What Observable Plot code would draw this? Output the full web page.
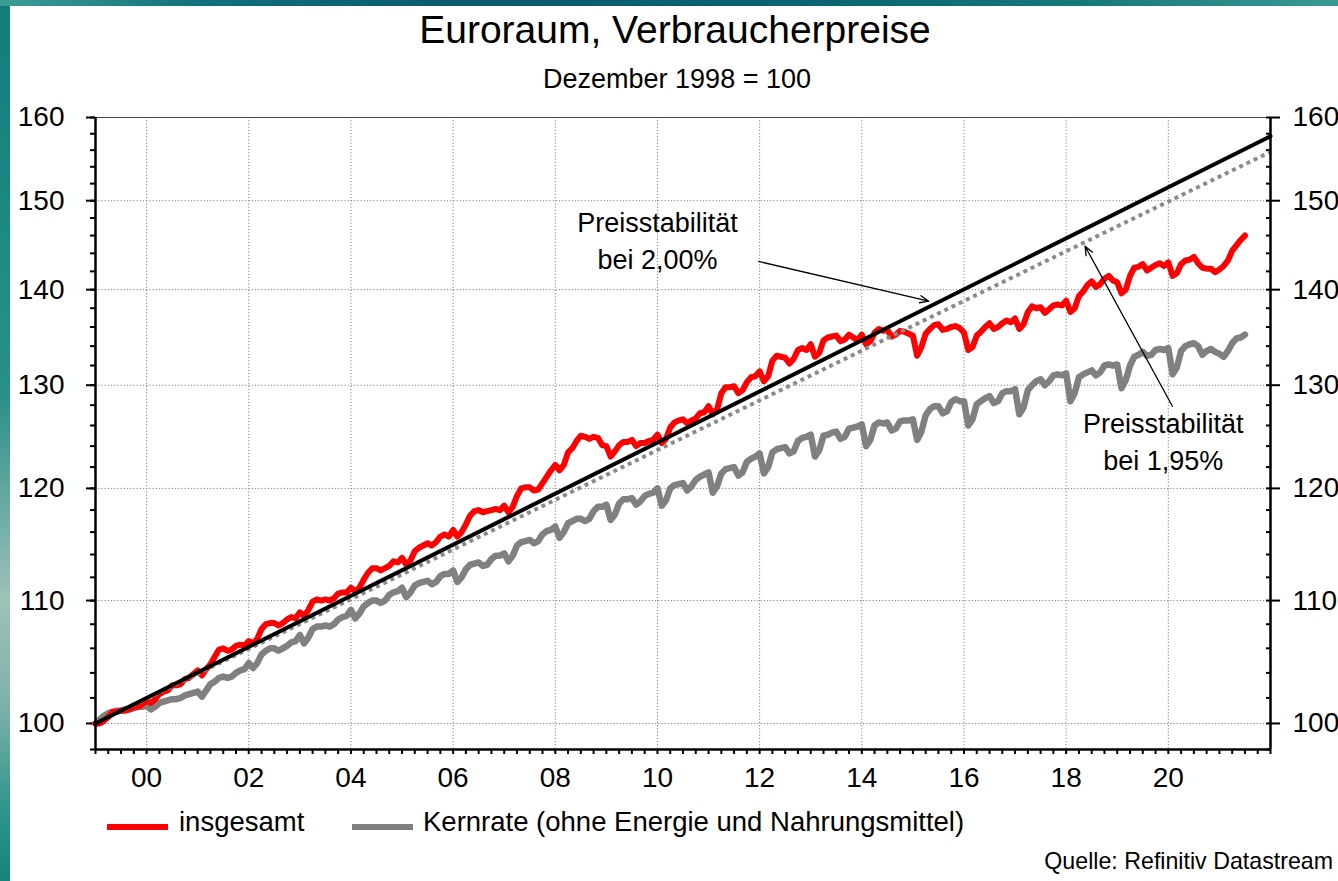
<!DOCTYPE html>
<html>
<head>
<meta charset="utf-8">
<script src="https://cdn.jsdelivr.net/npm/d3@7"></script>
<script src="https://cdn.jsdelivr.net/npm/@observablehq/plot@0.6"></script>
<style>
  html, body { margin: 0; padding: 0; width: 1338px; height: 881px; overflow: hidden; }
  body {
    position: relative;
    font-family: "Liberation Sans", Arial, sans-serif;
    background: linear-gradient(180deg, #157c79 0%, #1a8a83 25%, #2a9088 45%, #9fc1b8 68%, #7fb2a8 80%, #2d958b 92%, #16847c 100%);
  }
  #topstrip { position: absolute; left: 0; top: 0; width: 1338px; height: 6px;
    background: linear-gradient(90deg, #3a9e94 0%, #12707a 15%, #0a5a6a 35%, #0b6470 60%, #127878 80%, #3a9a92 100%); }
  #page { position: absolute; left: 10px; top: 6px; width: 1328px; height: 875px; background: #fff; }
  #title { position: absolute; left: 0; top: 10px; width: 1350px; text-align: center; font-size: 39px; line-height: 40px; color: #000; }
  #subtitle { position: absolute; left: 0; top: 65px; width: 1354px; text-align: center; font-size: 27px; line-height: 28px; color: #000; }
  #chart { position: absolute; left: 0; top: 95px; }
  .sw { position: absolute; height: 6px; }
  .lg { position: absolute; font-size: 27.5px; line-height: 30px; color: #000; white-space: nowrap; }
  #caption { position: absolute; right: 5px; top: 849px; font-size: 23.2px; line-height: 24px; color: #000; }
</style>
</head>
<body>
<div id="topstrip"></div>
<div id="page"></div>
<div id="title">Euroraum, Verbraucherpreise</div>
<div id="subtitle">Dezember 1998 = 100</div>
<div id="chart"></div>
<div class="sw" style="left:107px; top:824px; width:61px; background:#ff0000;"></div>
<div class="lg" style="left:179px; top:807px;">insgesamt</div>
<div class="sw" style="left:352px; top:824px; width:61px; background:#808080;"></div>
<div class="lg" style="left:423px; top:807px;">Kernrate (ohne Energie und Nahrungsmittel)</div>
<div id="caption">Quelle: Refinitiv Datastream</div>
<script>
// Monthly index values, December 1998 = 100; first value = Dec 1998, last = Jun 2021
const startJahr = 1999; // Dec 1998 sits at the start of 1999 on the axis
const insgesamt = [
  100.0,
  100.0,100.2,100.5,100.9,100.9,101.0,101.0,101.1,101.3,101.3,101.5,101.8, // 1999
  101.6,101.9,102.3,102.5,102.6,103.0,103.0,103.1,103.5,103.6,103.9,104.2, // 2000
  103.8,104.3,104.7,105.3,105.9,106.0,105.8,105.9,106.2,106.3,106.2,106.6, // 2001
  106.4,106.8,107.6,108.0,108.1,108.1,107.9,108.1,108.4,108.6,108.5,109.0, // 2002
  108.7,109.2,109.9,110.1,110.0,110.1,110.0,110.2,110.6,110.7,110.7,111.1, // 2003
  110.8,111.1,111.8,112.4,112.8,112.8,112.6,112.8,113.0,113.4,113.3,113.7, // 2004
  113.1,113.5,114.3,114.6,114.8,115.0,114.8,115.1,115.6,115.8,115.6,116.2, // 2005
  115.6,116.0,116.7,117.5,117.9,118.0,117.8,117.9,118.0,118.1,118.0,118.4, // 2006
  117.8,118.3,119.3,120.0,120.1,120.1,119.8,119.9,120.5,121.1,121.7,122.2, // 2007
  121.7,122.2,123.4,123.8,124.5,125.0,124.9,124.7,124.9,124.8,124.1,124.0, // 2008
  123.0,123.5,124.1,124.4,124.4,124.6,124.0,124.3,124.3,124.5,124.6,125.1, // 2009
  124.3,124.7,125.8,126.3,126.5,126.6,126.2,126.5,126.7,127.2,127.3,127.9, // 2010
  127.1,127.6,129.2,129.8,129.8,129.9,129.2,129.5,130.3,130.8,130.9,131.4, // 2011
  130.4,130.9,132.5,133.0,132.9,132.8,132.2,132.7,133.6,133.8,133.6,134.2, // 2012
  132.9,133.3,134.6,134.9,135.0,135.1,134.5,134.7,135.2,134.9,134.6,135.2, // 2013
  134.2,134.5,135.4,135.8,135.6,135.7,135.0,135.2,135.6,135.5,135.3,135.1, // 2014
  133.0,133.9,135.3,135.8,136.2,136.3,135.7,135.8,136.0,136.1,135.9,135.4, // 2015
  133.6,133.9,135.1,135.5,136.0,136.4,135.8,136.0,136.4,136.7,136.5,136.9, // 2016
  135.8,136.3,137.6,138.2,138.0,138.1,137.5,137.9,138.3,138.4,138.3,138.8, // 2017
  137.6,138.0,139.3,139.8,140.5,140.9,140.3,140.6,141.2,141.5,141.0,140.8, // 2018
  139.6,140.0,141.5,142.4,142.5,142.8,142.1,142.4,142.7,142.9,142.6,143.0, // 2019
  141.5,141.8,142.8,143.2,143.3,143.6,142.9,142.4,142.3,142.3,141.9,142.2, // 2020
  142.6,143.2,144.3,144.9,145.5,146.0                                      // 2021
];
const kernrate = [
  100.0,
  100.3,100.6,100.8,100.9,101.0,101.0,101.1,101.1,101.2,101.3,101.3,101.4, // 1999
  101.1,101.3,101.6,101.7,101.8,101.9,101.9,102.0,102.2,102.3,102.4,102.5, // 2000
  102.1,102.6,103.1,103.3,103.6,103.7,103.6,103.7,104.0,104.2,104.3,104.8, // 2001
  104.4,104.8,105.5,105.8,106.0,106.0,105.8,106.0,106.2,106.5,106.6,107.1, // 2002
  106.4,106.9,107.6,107.8,107.8,107.9,107.8,108.0,108.4,108.6,108.7,109.2, // 2003
  108.5,108.9,109.5,109.8,110.0,110.0,109.8,110.0,110.5,110.7,110.8,111.1, // 2004
  110.3,110.7,111.3,111.5,111.6,111.7,111.4,111.6,112.1,112.3,112.3,112.6, // 2005
  111.6,112.0,112.7,113.1,113.2,113.3,113.0,113.1,113.6,113.9,113.9,114.1, // 2006
  113.4,113.9,114.8,115.1,115.2,115.3,115.0,115.2,115.8,116.1,116.2,116.5, // 2007
  115.5,116.0,116.8,117.0,117.2,117.2,117.0,117.2,117.9,118.3,118.3,118.5, // 2008
  117.1,117.6,118.6,119.0,119.0,119.1,118.5,118.8,119.3,119.5,119.6,120.0, // 2009
  118.4,118.9,120.0,120.3,120.4,120.5,119.8,120.2,120.8,121.1,121.3,121.5, // 2010
  119.6,120.2,121.4,121.8,121.9,122.0,121.2,121.5,122.5,122.8,123.0,123.3, // 2011
  121.4,122.0,123.4,123.7,123.8,123.9,123.3,123.5,124.5,124.8,124.9,125.1, // 2012
  123.0,123.6,125.0,125.1,125.3,125.4,124.7,124.9,125.7,125.8,125.9,126.1, // 2013
  124.0,124.6,126.0,126.3,126.2,126.3,125.5,125.7,126.4,126.5,126.5,126.6, // 2014
  124.6,125.4,127.0,127.6,127.9,127.9,127.2,127.4,128.3,128.6,128.4,128.4, // 2015
  126.0,126.6,128.1,128.4,128.7,128.9,128.2,128.4,129.2,129.4,129.4,129.6, // 2016
  127.1,127.8,129.5,130.0,130.4,130.6,130.0,130.4,131.0,131.1,131.0,131.2, // 2017
  128.4,129.2,130.8,131.1,131.3,131.5,131.0,131.3,132.0,132.1,132.0,132.1, // 2018
  129.7,130.5,132.0,132.9,133.1,133.4,133.0,133.1,133.6,133.7,133.6,133.8, // 2019
  131.1,131.8,133.5,134.0,134.2,134.3,134.0,133.1,133.5,133.7,133.4,133.2, // 2020
  132.9,133.5,134.3,134.8,134.9,135.2                                      // 2021
];
// Price-stability reference paths (start and end of the axis)
const refJahre = [1999, 2022];
const stabil200 = [100, 157.7];
const stabil195 = [100, 155.8];

// Axis ticks and labels
const xLabelJahre = [2000, 2002, 2004, 2006, 2008, 2010, 2012, 2014, 2016, 2018, 2020];
const xLabels = ["00", "02", "04", "06", "08", "10", "12", "14", "16", "18", "20"];
const yTicks = [100, 110, 120, 130, 140, 150, 160];
const yLabels = ["100", "110", "120", "130", "140", "150", "160"];

// Annotations
const notizen = [
  {x: 2010.0, y: 145.6, text: "Preisstabilität\nbei 2,00%"},
  {x: 2019.9, y: 124.6, text: "Preisstabilität\nbei 1,95%"}
];
const pfeile = [
  {x1: 2011.98, y1: 143.1, x2: 2015.31, y2: 138.75},
  {x1: 2020.08, y1: 127.9, x2: 2018.37, y2: 144.8}
];

const hData = insgesamt.map((v, i) => ({x: startJahr + i / 12, v}));
const kData = kernrate.map((v, i) => ({x: startJahr + i / 12, v}));
const r200 = refJahre.map((x, i) => ({x, v: stabil200[i]}));
const r195 = refJahre.map((x, i) => ({x, v: stabil195[i]}));
const quartale = d3.range(1999, 2022.001, 0.25);
const yMinor = d3.range(98, 160.5, 2);
const gridColor = "#808080";
const dots = "1.2,2";

const chart = Plot.plot({
  width: 1338, height: 700,
  marginLeft: 95, marginRight: 68, marginTop: 22, marginBottom: 46,
  style: {background: "transparent", fontFamily: "'Liberation Sans', Arial, sans-serif", color: "#000", overflow: "visible"},
  x: {type: "linear", domain: [1999, 2022]},
  y: {type: "log", domain: [98, 160]},
  marks: [
    Plot.gridX(xLabelJahre, {stroke: gridColor, strokeOpacity: 1, strokeDasharray: dots, strokeWidth: 1}),
    Plot.gridY(yTicks.slice(0, 6), {stroke: gridColor, strokeOpacity: 1, strokeDasharray: dots, strokeWidth: 1}),
    Plot.ruleY([160], {stroke: "#444", strokeWidth: 1}),
    // axes: x
    Plot.axisX(quartale, {tickSize: 5, strokeWidth: 2, tickFormat: () => "", label: null}),
    Plot.axisX(xLabelJahre, {tickSize: 0, tickPadding: 18, fontSize: 28, label: null,
      tickFormat: d => xLabels[xLabelJahre.indexOf(d)]}),
    // axes: y left
    Plot.axisY(yMinor, {anchor: "left", tickSize: 5, strokeWidth: 2, tickFormat: () => "", label: null}),
    Plot.axisY(yTicks, {anchor: "left", tickSize: 9, strokeWidth: 2, tickPadding: 22, fontSize: 28, label: null,
      tickFormat: d => yLabels[yTicks.indexOf(d)]}),
    // axes: y right
    Plot.axisY(yMinor, {anchor: "right", tickSize: -5, strokeWidth: 2, tickFormat: () => "", label: null}),
    Plot.axisY(yTicks, {anchor: "right", tickSize: 9, strokeWidth: 2, tickPadding: 13, fontSize: 28, label: null,
      tickFormat: d => yLabels[yTicks.indexOf(d)]}),
    // data lines
    Plot.line(kData, {x: "x", y: "v", stroke: "#808080", strokeWidth: 6.5}),
    Plot.line(hData, {x: "x", y: "v", stroke: "#ff0000", strokeWidth: 6}),
    Plot.line(r195, {x: "x", y: "v", stroke: "#8a8a8a", strokeWidth: 4, strokeDasharray: "4,4", strokeLinecap: "butt"}),
    Plot.line(r200, {x: "x", y: "v", stroke: "#000", strokeWidth: 4}),
    // frame
    Plot.ruleX([1999], {stroke: "#000", strokeWidth: 2.5}),
    Plot.ruleX([2022], {stroke: "#000", strokeWidth: 2.5}),
    Plot.ruleY([98], {stroke: "#000", strokeWidth: 2.5}),
    // annotations
    Plot.arrow(pfeile, {x1: "x1", y1: "y1", x2: "x2", y2: "y2", stroke: "#000", strokeWidth: 1.3, headLength: 11, headAngle: 45}),
    Plot.text(notizen, {x: "x", y: "y", text: "text", fontSize: 27, lineHeight: 1.37, fill: "#000", lineAnchor: "middle"})
  ]
});
document.getElementById("chart").appendChild(chart);
</script>
</body>
</html>
